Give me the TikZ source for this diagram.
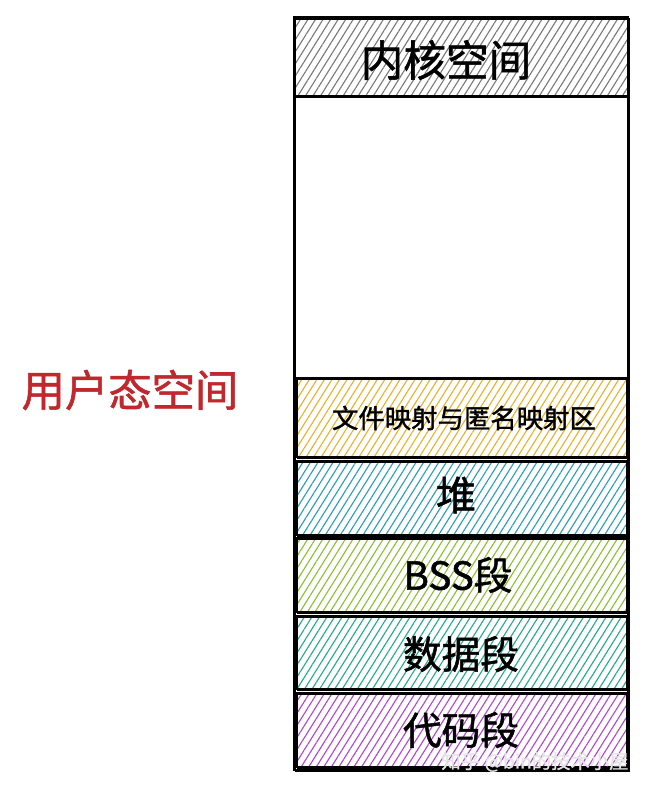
\documentclass[tikz,border=0pt]{standalone}
\usepackage{fontspec}
\setmainfont{Noto Sans CJK SC}[FakeBold=1.3]
\usetikzlibrary{patterns.meta}
\definecolor{kcol}{HTML}{7A7A7A}
\definecolor{fcol}{HTML}{E9B22E}
\definecolor{hcol}{HTML}{2E9DB8}
\definecolor{bcol}{HTML}{8CBF34}
\definecolor{dcol}{HTML}{26A98E}
\definecolor{ccol}{HTML}{B048D0}
\definecolor{lred}{HTML}{C0282D}
\begin{document}
\begin{tikzpicture}[x=0.75pt,y=0.75pt,
  segbox/.style 2 args={draw=black, line width=1.5pt, inner sep=0pt,
    minimum width=#1*0.75pt, minimum height=#2*0.75pt},
  sketch/.style={postaction={draw=black, line width=0.7pt,
    transform canvas={xshift=1.1pt,yshift=-1.1pt}}},
  hatch/.style={pattern={Lines[angle=58,distance=4.8pt,line width=0.85pt]},
    pattern color=#1},
  bigtxt/.style={font=\fontsize{#1}{#1}\selectfont, text=black}
]
\useasboundingbox (0,0) rectangle (647,790);
% outer frame and free region
\node[segbox={334}{753}, sketch] (frame) at (461,396.5) {};
\node[segbox={334}{282}] (free) at (461,553) {};
% segments
\node[segbox={334}{78}, hatch=kcol, sketch] (kern) at (461,733) {};
\node[segbox={331}{79}, hatch=fcol, sketch] (fmap) at (461.5,372.5) {};
\node[segbox={331}{74}, hatch=hcol, sketch] (heap) at (461.5,292) {};
\node[segbox={331}{74}, hatch=bcol, sketch] (bss) at (461.5,215) {};
\node[segbox={331}{73}, hatch=dcol, sketch] (data) at (461.5,137.5) {};
\node[segbox={331}{74}, hatch=ccol, sketch] (code) at (461.5,60) {};
% labels
\node[bigtxt=32pt] (kt) at (446,730) {内核空间};
\node[bigtxt=19.8pt] (ft) at (464,372) {文件映射与匿名映射区};
\node[bigtxt=30pt] (ht) at (456,295) {堆};
\node[bigtxt=29pt] (bt) at (458,215) {BSS段};
\node[bigtxt=29pt] (dt) at (461,136) {数据段};
\node[bigtxt=29pt] (ct) at (461,60) {代码段};
\node[font=\fontsize{32.5pt}{32.5pt}\selectfont, text=lred] (user) at (130,400) {用户态空间};
\node[font=\fontsize{14.5pt}{14.5pt}\selectfont, text=white!80!gray] (wm) at (535,28) {知乎 @bin的技术小屋};
\end{tikzpicture}
\end{document}
